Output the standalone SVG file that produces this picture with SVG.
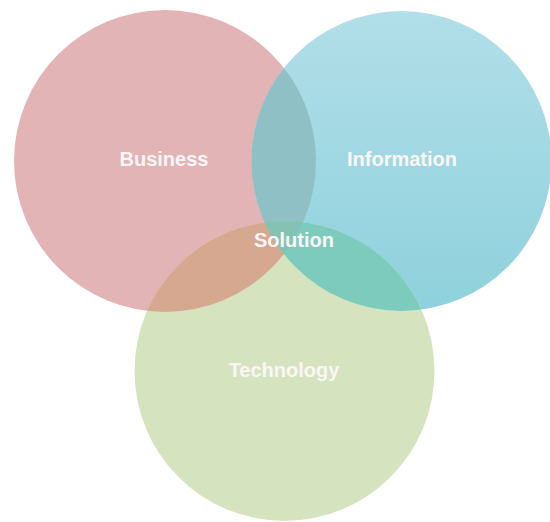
<svg xmlns="http://www.w3.org/2000/svg" width="550" height="522" viewBox="0 0 550 522">
<style>
.lbl{font-family:"Liberation Sans",Arial,sans-serif;font-weight:bold;font-size:20px;fill:#fbf6f6;text-anchor:middle}
</style>
<defs>
<linearGradient id="gInfo" x1="0" y1="0" x2="0" y2="1">
<stop offset="0" stop-color="#b2dfe9"/>
<stop offset="1" stop-color="#8ed1dc"/>
</linearGradient>
<clipPath id="cB"><circle cx="165" cy="161" r="151"/></clipPath>
<clipPath id="cI"><circle cx="401.5" cy="161" r="150"/></clipPath>
<clipPath id="cT"><circle cx="284.5" cy="371" r="150"/></clipPath>
</defs>
<rect width="550" height="522" fill="#ffffff"/>
<g id="business"><circle cx="165" cy="161" r="151" fill="#e2b4b6"/></g>
<g id="information"><circle cx="401.5" cy="161" r="150" fill="url(#gInfo)"/></g>
<g id="technology"><circle cx="284.5" cy="371" r="150" fill="#d5e4be"/></g>
<g id="overlaps">
<circle cx="401.5" cy="161" r="150" fill="#8ec0c5" clip-path="url(#cB)"/>
<circle cx="284.5" cy="371" r="150" fill="#d5a88f" clip-path="url(#cB)"/>
<circle cx="284.5" cy="371" r="150" fill="#7dcbbd" clip-path="url(#cI)"/>
<g clip-path="url(#cB)"><circle cx="284.5" cy="371" r="150" fill="#84c2b4" clip-path="url(#cI)"/></g>
</g>
<g id="labels">
<text class="lbl" x="164" y="166">Business</text>
<text class="lbl" x="402" y="166">Information</text>
<text class="lbl" x="294" y="247">Solution</text>
<text class="lbl" x="284" y="377">Technology</text>
</g>
</svg>
